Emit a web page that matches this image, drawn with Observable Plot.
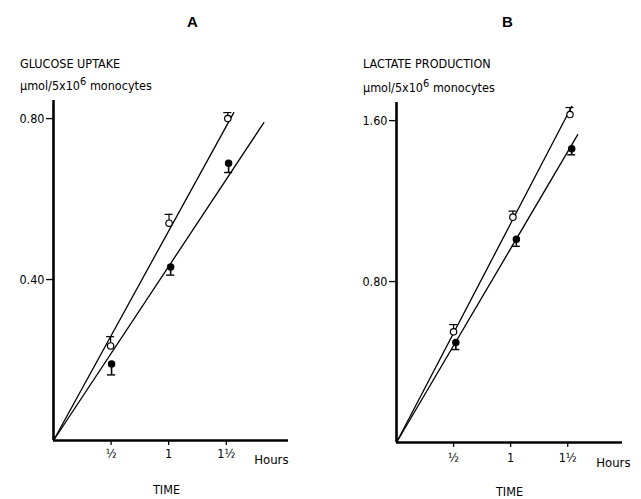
<!DOCTYPE html>
<html><head><meta charset="utf-8">
<script src="https://cdn.jsdelivr.net/npm/d3@7"></script>
<script src="https://cdn.jsdelivr.net/npm/@observablehq/plot@0.6"></script>
<style>
body{margin:0;background:#fff}
#wrap{position:relative;width:641px;height:499px;font-family:"DejaVu Sans Condensed","Liberation Sans Narrow",sans-serif;font-stretch:condensed;color:#000}
.p{position:absolute;top:0}
.t{position:absolute;white-space:nowrap;line-height:1}
.h{font-family:"Liberation Sans",Arial,sans-serif;font-weight:bold;font-size:15px}
.lab{font-size:12.5px}
sup{font-size:11px;vertical-align:0;position:relative;top:-5px}
</style></head><body><div id="wrap"></div>
<script>
// ---- data ----
const hourTicks = [0.5, 1, 1.5];
const hourLabels = ["½", "1", "1½"];

// Panel A: glucose uptake (µmol / 5x10^6 monocytes)
const glucoseTimeOpen   = [0.496, 1.003, 1.513];
const glucoseOpen       = [0.235, 0.540, 0.800];
const glucoseOpenErr    = [0.258, 0.562, 0.815];
const glucoseTimeFilled = [0.504, 1.017, 1.520];
const glucoseFilled     = [0.190, 0.431, 0.689];
const glucoseFilledErr  = [0.163, 0.411, 0.666];
const glucoseLineOpenT   = [0, 1.565];
const glucoseLineOpenV   = [0, 0.815];
const glucoseLineFilledT = [0, 1.826];
const glucoseLineFilledV = [0, 0.790];
const glucoseYTicks = [0.40, 0.80];

// Panel B: lactate production (µmol / 5x10^6 monocytes)
const lactateTimeOpen   = [0.500, 1.020, 1.520];
const lactateOpen       = [0.550, 1.120, 1.630];
const lactateOpenErr    = [0.586, 1.150, 1.665];
const lactateTimeFilled = [0.520, 1.050, 1.535];
const lactateFilled     = [0.497, 1.010, 1.460];
const lactateFilledErr  = [0.462, 0.975, 1.430];
const lactateLineOpenT   = [0, 1.535];
const lactateLineOpenV   = [0, 1.670];
const lactateLineFilledT = [0, 1.588];
const lactateLineFilledV = [0, 1.530];
const lactateYTicks = [0.80, 1.60];

const FONT = '"DejaVu Sans Condensed","Liberation Sans Narrow",sans-serif';
const zip = (t, v, e) => t.map((x, i) => ({t: x, v: v[i], e: e ? e[i] : null}));
const CAP = 0.035;

function panel(o) {
  const open = zip(o.tOpen, o.open, o.openErr);
  const filled = zip(o.tFilled, o.filled, o.filledErr);
  return Plot.plot({
    width: o.width, height: 499,
    marginLeft: o.ml, marginRight: o.mr, marginTop: o.mt, marginBottom: o.mb,
    x: {domain: o.xd},
    y: {domain: o.yd},
    style: {fontFamily: FONT, fontSize: "12.5px", fontStretch: "condensed", background: "white", color: "black"},
    marks: [
      Plot.line(zip(o.lot, o.lov), {x: "t", y: "v", stroke: "black", strokeWidth: 1.3}),
      Plot.line(zip(o.lft, o.lfv), {x: "t", y: "v", stroke: "black", strokeWidth: 1.3}),
      Plot.ruleX(open, {x: "t", y1: "v", y2: "e", stroke: "black", strokeWidth: 1.2}),
      Plot.ruleY(open, {x1: d => d.t - CAP, x2: d => d.t + CAP, y: "e", stroke: "black", strokeWidth: 1.2}),
      Plot.ruleX(filled, {x: "t", y1: "v", y2: "e", stroke: "black", strokeWidth: 1.6}),
      Plot.ruleY(filled, {x1: d => d.t - CAP, x2: d => d.t + CAP, y: "e", stroke: "black", strokeWidth: 1.4}),
      Plot.dot(open, {x: "t", y: "v", r: 3.2, fill: "white", stroke: "black", strokeWidth: 1.2}),
      Plot.dot(filled, {x: "t", y: "v", r: 3.0, fill: "black", stroke: "black"}),
      Plot.ruleX([0], {stroke: "black", strokeWidth: 2.6}),
      Plot.ruleY([0], {stroke: "black", strokeWidth: 2.6}),
      Plot.axisY({ticks: o.yTicks, tickFormat: d => d.toFixed(2), tickSize: 7, tickPadding: 2, label: null, strokeWidth: 1.3}),
      Plot.axisX({ticks: hourTicks, tickFormat: (d, i) => hourLabels[i], tickSize: 5, tickPadding: o.xPad, label: null, strokeWidth: 1.3}),
      Plot.text(["Hours"], {frameAnchor: "bottom-right", textAnchor: "end", dx: o.hoursDx, dy: o.hoursDy, fontSize: 13})
    ]
  });
}

const wrap = document.getElementById("wrap");

const a = panel({
  width: 320, ml: 53, mr: 32, mt: 100, mb: 59, xd: [0, 2.04], yd: [0, 0.845],
  tOpen: glucoseTimeOpen, open: glucoseOpen, openErr: glucoseOpenErr,
  tFilled: glucoseTimeFilled, filled: glucoseFilled, filledErr: glucoseFilledErr,
  lot: glucoseLineOpenT, lov: glucoseLineOpenV, lft: glucoseLineFilledT, lfv: glucoseLineFilledV,
  yTicks: glucoseYTicks, hoursDx: 0, hoursDy: 23, xPad: 4
});
a.classList.add("p"); a.style.left = "0px";
wrap.appendChild(a);

const b = panel({
  width: 321, ml: 76, mr: 19, mt: 102, mb: 57, xd: [0, 1.98], yd: [0, 1.69],
  tOpen: lactateTimeOpen, open: lactateOpen, openErr: lactateOpenErr,
  tFilled: lactateTimeFilled, filled: lactateFilled, filledErr: lactateFilledErr,
  lot: lactateLineOpenT, lov: lactateLineOpenV, lft: lactateLineFilledT, lfv: lactateLineFilledV,
  yTicks: lactateYTicks, hoursDx: 8, hoursDy: 24, xPad: 6
});
b.classList.add("p"); b.style.left = "320px";
wrap.appendChild(b);

const texts = [
  {html: "A", cls: "h", x: 187, y: 14},
  {html: "B", cls: "h", x: 502, y: 14},
  {html: "GLUCOSE UPTAKE", cls: "lab", x: 20, y: 58},
  {html: "μmol/5x10<sup>6</sup> monocytes", cls: "lab", x: 20, y: 80},
  {html: "LACTATE PRODUCTION", cls: "lab", x: 363, y: 58},
  {html: "μmol/5x10<sup>6</sup> monocytes", cls: "lab", x: 363, y: 82},
  {html: "TIME", cls: "lab", x: 153, y: 484},
  {html: "TIME", cls: "lab", x: 496, y: 486}
];
for (const t of texts) {
  const d = document.createElement("div");
  d.className = "t " + t.cls;
  d.style.left = t.x + "px"; d.style.top = t.y + "px";
  d.innerHTML = t.html;
  wrap.appendChild(d);
}
</script>
</body></html>
